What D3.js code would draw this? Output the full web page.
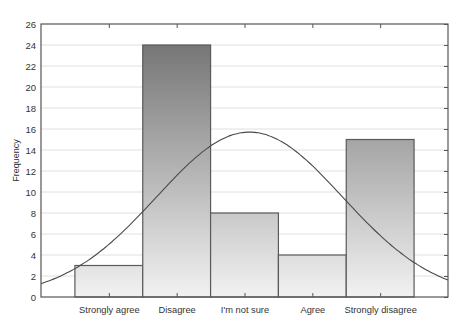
<!DOCTYPE html>
<html><head><meta charset="utf-8">
<script src="https://cdn.jsdelivr.net/npm/d3@7"></script>
<style>body{margin:0;background:#fff}svg{display:block}text{font-family:Arial,"Liberation Sans",sans-serif;fill:#333}</style>
</head><body><svg id="c" width="467" height="323"></svg>
<script>
const categories = ["Strongly agree","Disagree","I'm not sure","Agree","Strongly disagree"];
const counts = [3,24,8,4,15];
const yTicks = [0,2,4,6,8,10,12,14,16,18,20,22,24,26];
const yLabel = "Frequency";

const W=467,H=323, m={l:41,t:24,r:19,b:26};
const svg=d3.select("#c");
const x=d3.scaleLinear().domain([0,categories.length+1]).range([m.l,W-m.r]);
const y=d3.scaleLinear().domain([0,26]).range([H-m.b,m.t]);

const defs=svg.append("defs");
const g=defs.append("linearGradient").attr("id","bg").attr("gradientUnits","userSpaceOnUse")
 .attr("x1",0).attr("x2",0).attr("y1",y(26)).attr("y2",y(0));
g.append("stop").attr("offset",0).attr("stop-color","#6c6c6c");
g.append("stop").attr("offset",1).attr("stop-color","#f2f2f2");

// grid
svg.append("g").selectAll("line").data(yTicks.filter(d=>d>0&&d<26)).join("line")
 .attr("x1",m.l).attr("x2",W-m.r).attr("y1",d=>y(d)).attr("y2",d=>y(d))
 .attr("stroke","#e0e0e0").attr("stroke-width",1);

// bars
svg.append("g").selectAll("rect").data(counts).join("rect")
 .attr("x",(d,i)=>x(i+0.5)).attr("width",(d,i)=>x(i+1.5)-x(i+0.5))
 .attr("y",d=>y(d)).attr("height",d=>y(0)-y(d))
 .attr("fill","url(#bg)").attr("stroke","#5a5a5a").attr("stroke-width",1.2);

// normal curve from data
const N=d3.sum(counts);
const mean=d3.sum(counts,(d,i)=>d*(i+1))/N;
const sd=Math.sqrt(d3.sum(counts,(d,i)=>d*(i+1-mean)**2)/(N-1));
const pts=d3.range(0,6.001,0.05).map(v=>[v,N/(sd*Math.sqrt(2*Math.PI))*Math.exp(-0.5*((v-mean)/sd)**2)]);
svg.append("path").datum(pts)
 .attr("d",d3.line().x(d=>x(d[0])).y(d=>y(d[1])).curve(d3.curveBasis))
 .attr("fill","none").attr("stroke","#4a4a4a").attr("stroke-width",1.1);

// axes
const ax=svg.append("g").attr("transform",`translate(${m.l},0)`)
 .call(d3.axisLeft(y).tickValues(yTicks).tickSize(0).tickPadding(5));
ax.select(".domain").remove();
ax.selectAll("text").attr("font-size",9.5).style("fill","#333");
// right ticks
svg.append("g").attr("transform",`translate(${W-m.r},0)`)
 .call(d3.axisLeft(y).tickValues(yTicks).tickSize(4).tickFormat(""))
 .call(s=>{s.select(".domain").remove();s.selectAll("line").attr("stroke","#555");});
// bottom
const bx=svg.append("g").attr("transform",`translate(0,${H-m.b})`)
 .call(d3.axisBottom(x).tickValues(d3.range(1,categories.length+1)).tickSize(-4).tickPadding(9).tickFormat((d)=>categories[d-1]));
bx.select(".domain").remove();
bx.selectAll("line").attr("stroke","#555");
bx.selectAll("text").attr("font-size",9.3).style("fill","#333");
// top ticks
svg.append("g").attr("transform",`translate(0,${m.t})`)
 .call(d3.axisTop(x).tickValues(d3.range(1,categories.length+1)).tickSize(-4).tickFormat(""))
 .call(s=>{s.select(".domain").remove();s.selectAll("line").attr("stroke","#555");});
// frame
svg.append("rect").attr("x",m.l).attr("y",m.t).attr("width",W-m.r-m.l).attr("height",H-m.b-m.t)
 .attr("fill","none").attr("stroke","#555").attr("stroke-width",1.2);
// y label
svg.append("text").attr("transform",`translate(18.5,${(m.t+H-m.b)/2}) rotate(-90)`)
 .attr("text-anchor","middle").attr("font-size",9).text(yLabel);
</script></body></html>
